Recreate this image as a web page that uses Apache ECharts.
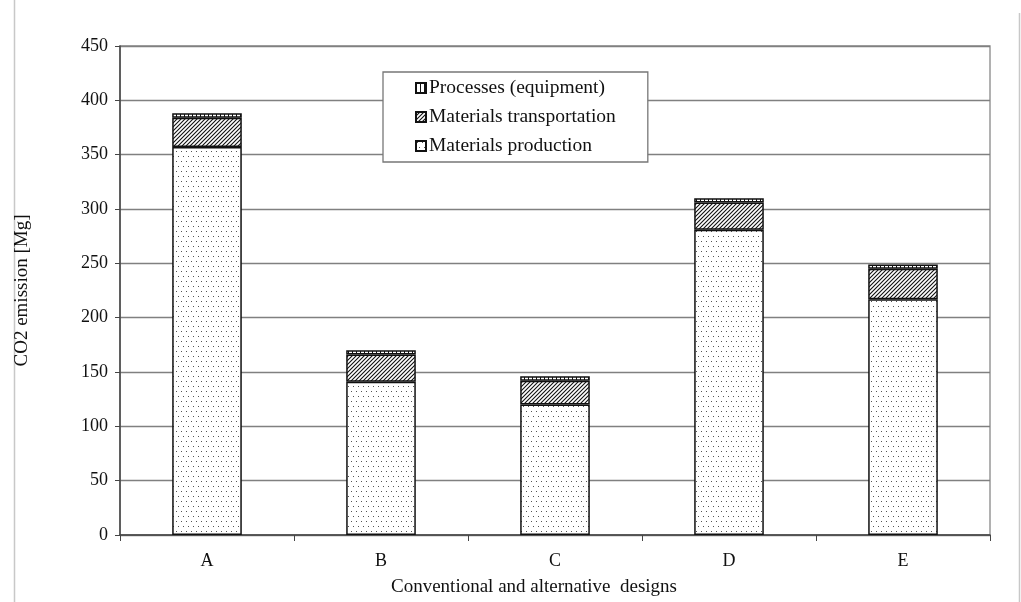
<!DOCTYPE html>
<html>
<head>
<meta charset="utf-8">
<script src="https://cdn.jsdelivr.net/npm/echarts@6/dist/echarts.min.js"></script>
<style>html,body{margin:0;padding:0;background:#fff;}#c{width:1021px;height:602px;}</style>
</head>
<body>
<div id="c"></div>
<script>
const categories = ['A', 'B', 'C', 'D', 'E'];
const production = [357, 141, 120, 281, 217];
const transportation = [27, 25, 22, 25, 28];
const processes = [4, 4, 4, 4, 4];
const yTicks = [0, 50, 100, 150, 200, 250, 300, 350, 400, 450];

function makePattern(w, h, draw) {
  const cv = document.createElement('canvas');
  cv.width = w; cv.height = h;
  const ctx = cv.getContext('2d');
  ctx.fillStyle = '#fff';
  ctx.fillRect(0, 0, w, h);
  draw(ctx);
  return { image: cv, repeat: 'repeat' };
}
const dotPat = makePattern(10, 10, ctx => {
  ctx.fillStyle = '#555';
  [[1,1],[6,1],[3,6],[8,6]].forEach(p => ctx.fillRect(p[0], p[1], 1, 1));
});
const hatchPat = makePattern(4, 4, ctx => {
  ctx.strokeStyle = '#111';
  ctx.lineWidth = 1.1;
  ctx.beginPath();
  ctx.moveTo(-1, 5); ctx.lineTo(5, -1);
  ctx.moveTo(-1, 1); ctx.lineTo(1, -1);
  ctx.moveTo(3, 5); ctx.lineTo(5, 3);
  ctx.stroke();
});
const vertPat = makePattern(4, 4, ctx => {
  ctx.fillStyle = '#111';
  ctx.fillRect(0, 0, 1, 4);
});

const font = '"Liberation Serif", "Times New Roman", serif';
const chart = echarts.init(document.getElementById('c'));
const barBase = { type: 'bar', stack: 'total', barWidth: '40%' };
chart.setOption({
  animation: false,
  textStyle: { fontFamily: font },
  graphic: [
    { type: 'line', shape: { x1: 14.5, y1: 0, x2: 14.5, y2: 602 }, style: { stroke: '#c8c8c8', lineWidth: 1.5 } },
    { type: 'line', shape: { x1: 1019.5, y1: 13, x2: 1019.5, y2: 602 }, style: { stroke: '#c8c8c8', lineWidth: 1.5 } }
  ],
  grid: { left: 120, right: 31, top: 46, bottom: 67, containLabel: false, outerBoundsMode: 'none',
    show: true, borderColor: '#888', borderWidth: 1.3, backgroundColor: 'transparent' },
  legend: {
    orient: 'vertical',
    left: 383, top: 72,
    padding: [6, 32, 6, 32],
    itemGap: 9,
    itemWidth: 10, itemHeight: 10,
    backgroundColor: '#fff',
    borderColor: '#777', borderWidth: 1.3,
    borderRadius: 0,
    icon: 'rect',
    textStyle: { fontFamily: font, fontSize: 19.5, color: '#111', padding: [0, 0, 0, -2] },
    data: ['Processes (equipment)', 'Materials transportation', 'Materials production']
  },
  xAxis: {
    type: 'category',
    data: categories,
    name: 'Conventional and alternative  designs',
    nameLocation: 'middle',
    nameGap: 43,
    nameTextStyle: { fontFamily: font, fontSize: 19, color: '#111', padding: [0, 42, 0, 0] },
    axisLine: { lineStyle: { color: '#444', width: 1.5 } },
    axisTick: { show: true, length: 6, lineStyle: { color: '#444' } },
    axisLabel: { fontFamily: font, fontSize: 18, color: '#111', margin: 17 }
  },
  yAxis: {
    type: 'value',
    min: 0, max: 450, interval: 50,
    name: 'CO2 emission [Mg]',
    nameLocation: 'middle',
    nameGap: 88,
    nameTextStyle: { fontFamily: font, fontSize: 19, color: '#111' },
    axisLine: { show: true, lineStyle: { color: '#444', width: 1.5 } },
    axisTick: { show: true, length: 5, lineStyle: { color: '#444' } },
    axisLabel: { fontFamily: font, fontSize: 18, color: '#111', margin: 12,
      formatter: v => yTicks.indexOf(v) >= 0 ? String(v) : '' },
    splitLine: { show: true, lineStyle: { color: '#808080', width: 1.3 } }
  },
  series: [
    Object.assign({}, barBase, { name: 'Materials production', data: production,
      itemStyle: { color: dotPat, borderColor: '#111', borderWidth: 1.5 } }),
    Object.assign({}, barBase, { name: 'Materials transportation', data: transportation,
      itemStyle: { color: hatchPat, borderColor: '#111', borderWidth: 1.5 } }),
    Object.assign({}, barBase, { name: 'Processes (equipment)', data: processes,
      itemStyle: { color: vertPat, borderColor: '#111', borderWidth: 1.5 } })
  ]
});
</script>
</body>
</html>
